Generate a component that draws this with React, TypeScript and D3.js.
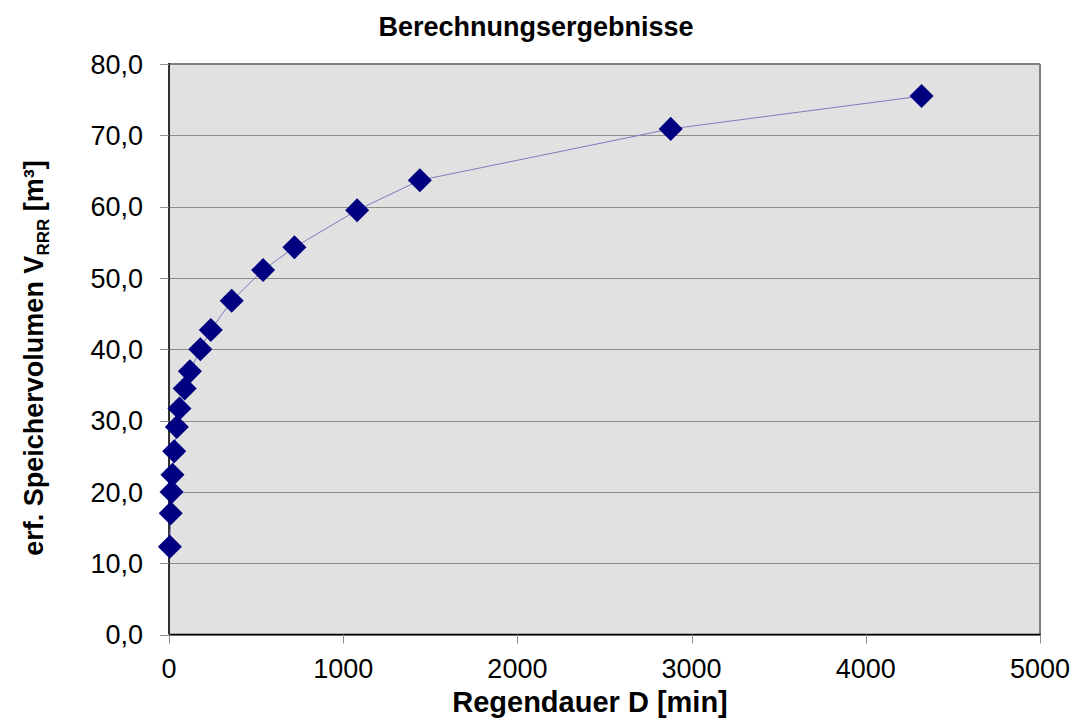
import React from "react";
import * as d3 from "d3";

// Regendauer D [min]
const durations = [5, 10, 15, 20, 30, 45, 60, 90, 120, 180, 240, 360, 540, 720, 1080, 1440, 2880, 4320];
// erforderliches Speichervolumen V_RRR [m³]
const volumes = [12.3, 17.0, 20.0, 22.4, 25.7, 29.1, 31.7, 34.5, 36.9, 40.0, 42.7, 46.8, 51.1, 54.3, 59.5, 63.7, 70.9, 75.5];

const xTicks = [0, 1000, 2000, 3000, 4000, 5000];
const yTicks = [0, 10, 20, 30, 40, 50, 60, 70, 80];

const W = 1078;
const H = 720;
const M = { left: 169, right: 1040, top: 64, bottom: 634.5 };
const FONT = "'Liberation Sans', Arial, sans-serif";

export default function App() {
  const x = d3.scaleLinear().domain([0, 5000]).range([M.left, M.right]);
  const y = d3.scaleLinear().domain([0, 80]).range([M.bottom, M.top]);
  const fmt = (v: number) => v.toFixed(1).replace(".", ",");

  const pts = durations.map((d, i) => [d, volumes[i]] as [number, number]);
  const line = d3
    .line<[number, number]>()
    .x((p) => x(p[0]))
    .y((p) => y(p[1]));

  const diamond = d3.symbol().type(d3.symbolSquare).size(17 * 17)();

  return (
    <svg
      width={W}
      height={H}
      style={{ position: "absolute", left: 0, top: 0, background: "#fff" }}
      fontFamily={FONT}
    >
      <rect x={0} y={0} width={W} height={H} fill="#fff" />
      {/* plot area */}
      <rect
        x={M.left}
        y={M.top}
        width={M.right - M.left}
        height={M.bottom - M.top}
        fill="#e1e1e1"
      />
      {/* horizontal gridlines */}
      {yTicks.map((t) => (
        <line
          key={"g" + t}
          x1={M.left}
          x2={M.right}
          y1={Math.round(y(t)) + 0.5}
          y2={Math.round(y(t)) + 0.5}
          stroke="#8c8c8c"
          strokeWidth={1}
        />
      ))}
      {/* top and right frame */}
      <line x1={M.left} x2={M.right} y1={M.top} y2={M.top} stroke="#808080" strokeWidth={2} />
      <line x1={M.right} x2={M.right} y1={M.top} y2={M.bottom} stroke="#808080" strokeWidth={2} />
      {/* axes */}
      <line x1={M.left} x2={M.left} y1={M.top - 1} y2={M.bottom} stroke="#000" strokeWidth={1.6} />
      <line x1={M.left} x2={M.right + 1} y1={M.bottom} y2={M.bottom} stroke="#000" strokeWidth={1.6} />

      {/* y ticks */}
      {yTicks.map((t) => (
        <g key={"y" + t}>
          <line
            x1={M.left - 9}
            x2={M.left}
            y1={Math.round(y(t)) + 0.5}
            y2={Math.round(y(t)) + 0.5}
            stroke="#8c8c8c"
          />
          <text
            x={143}
            y={y(t)}
            dy="0.36em"
            textAnchor="end"
            fontSize={27}
            fill="#000"
          >
            {fmt(t)}
          </text>
        </g>
      ))}
      {/* x ticks */}
      {xTicks.map((t) => (
        <g key={"x" + t}>
          <line
            x1={Math.round(x(t)) + 0.5}
            x2={Math.round(x(t)) + 0.5}
            y1={M.bottom}
            y2={M.bottom + 9}
            stroke="#8c8c8c"
          />
          <text x={x(t)} y={678} textAnchor="middle" fontSize={27} fill="#000">
            {t}
          </text>
        </g>
      ))}

      {/* series */}
      <path d={line(pts) ?? ""} fill="none" stroke="#7d7dbd" strokeWidth={1} />
      {pts.map((p, i) => (
        <path
          key={"p" + i}
          d={diamond ?? ""}
          transform={`translate(${x(p[0])},${y(p[1])}) rotate(45)`}
          fill="#000080"
        />
      ))}

      {/* titles */}
      <text x={536} y={36} textAnchor="middle" fontSize={27} fontWeight="bold" fill="#000">
        Berechnungsergebnisse
      </text>
      <text x={590} y={712} textAnchor="middle" fontSize={29} fontWeight="bold" fill="#000">
        Regendauer D [min]
      </text>
      <text
        transform="translate(43,358) rotate(-90)"
        textAnchor="middle"
        fontSize={27}
        fontWeight="bold"
        fill="#000"
      >
        erf. Speichervolumen V
        <tspan fontSize={17} dy={6}>RRR</tspan>
        <tspan dy={-6}> [m³]</tspan>
      </text>
    </svg>
  );
}
